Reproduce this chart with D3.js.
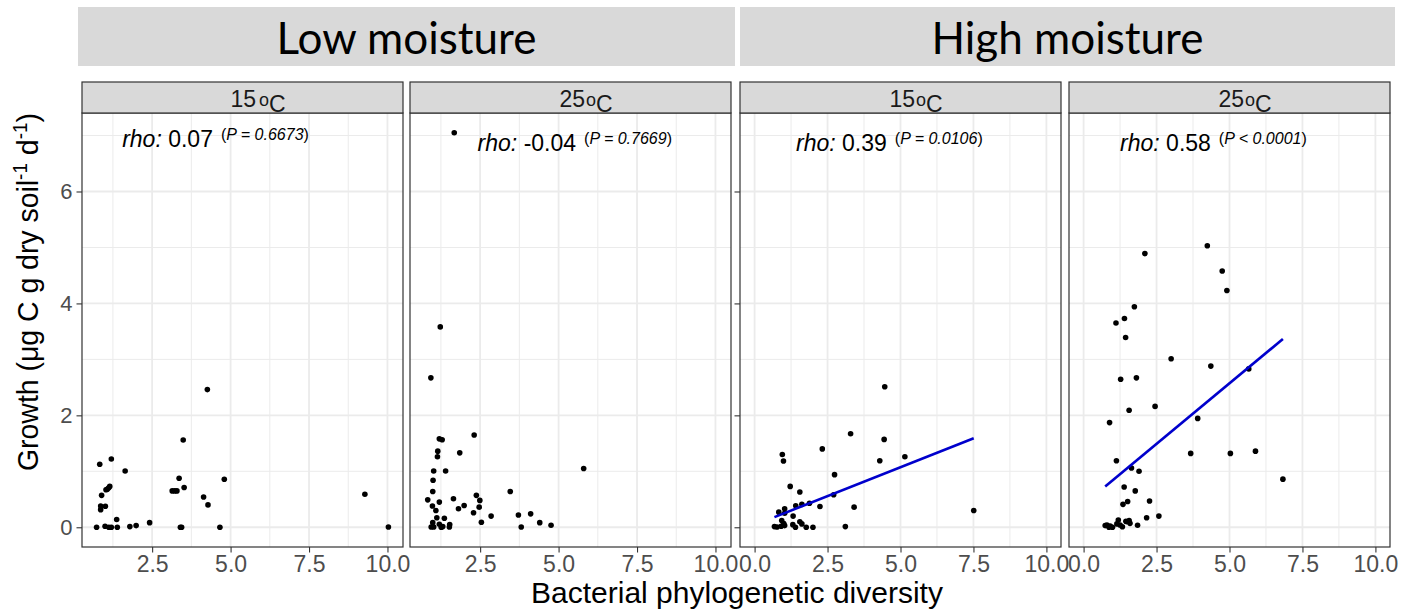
<!DOCTYPE html>
<html><head><meta charset="utf-8">
<script src="https://cdn.jsdelivr.net/npm/d3@7/dist/d3.min.js"></script>
<style>body{margin:0;background:#fff}svg{display:block}</style>
</head><body>
<svg id="chart" width="1406" height="613"></svg>
<script>
// ---------------- DATA ----------------
const moistureGroups = ["Low moisture", "High moisture"];
const temperatures = ["15", "25"];
const xTicks = [0, 2.5, 5, 7.5, 10];
const xTickLabels = ["0.0", "2.5", "5.0", "7.5", "10.0"];
const yTicks = [0, 2, 4, 6];
const yTickLabels = ["0", "2", "4", "6"];

// Low moisture, 15 °C
const low15X = [4.26,3.49,0.83,1.20,1.64,3.36,4.80,1.03,1.07,1.11,1.15,0.89,0.86,1.01,0.86,3.14,3.22,3.29,3.52,4.14,4.28,9.28,1.37,2.42,1.99,1.79,0.73,1.00,1.12,1.20,1.39,3.40,3.44,4.66,10.03];
const low15Y = [2.46,1.56,1.125,1.22,1.006,0.875,0.857,0.67,0.68,0.70,0.73,0.57,0.38,0.375,0.315,0.65,0.65,0.65,0.71,0.54,0.40,0.59,0.14,0.083,0.03,0.012,0,0.018,0,0,0,0,0,0,0.006];
// Low moisture, 25 °C
const low25X = [1.675,1.23,0.93,2.31,1.20,1.29,1.15,1.14,1.85,1.02,1.40,1.00,5.80,0.99,3.46,0.83,1.20,0.98,1.09,1.65,1.81,1.99,2.38,2.49,2.47,2.29,2.54,2.85,3.72,4.11,4.40,4.76,3.81,1.12,1.36,0.99,0.94,1.02,1.20,1.26,1.31,1.52,1.53];
const low25Y = [7.05,3.58,2.67,1.65,1.58,1.565,1.36,1.26,1.33,1.006,1.006,0.84,1.05,0.64,0.64,0.49,0.45,0.38,0.30,0.51,0.33,0.39,0.57,0.48,0.36,0.26,0.09,0.20,0.22,0.24,0.083,0.036,0.006,0.17,0.16,0.083,0.006,0.006,0.054,0,0.012,0.006,0.048];
// High moisture, 15 °C
const high15X = [4.46,3.29,4.44,2.32,4.29,5.15,0.95,0.99,2.74,1.22,1.55,2.71,1.41,1.62,1.88,2.24,3.41,7.51,1.03,0.83,1.03,1.32,0.93,1.00,0.68,0.77,0.91,1.03,1.31,1.40,1.55,1.62,1.77,2.00,3.11];
const high15Y = [2.51,1.67,1.57,1.40,1.19,1.26,1.30,1.185,0.94,0.73,0.63,0.58,0.385,0.41,0.43,0.37,0.36,0.30,0.33,0.27,0.25,0.20,0.12,0.065,0.012,0.006,0.018,0.03,0.047,0,0.10,0.06,0,0,0.012];
// High moisture, 25 °C
const high25X = [4.24,2.10,4.75,4.91,1.74,1.40,1.11,1.44,3.00,4.36,5.66,1.27,1.81,2.45,1.56,0.89,3.91,3.67,5.03,5.89,1.125,1.64,1.90,6.83,1.39,1.77,2.26,1.51,1.35,2.16,2.58,1.85,0.80,0.91,1.14,1.19,1.25,1.33,1.48,1.56,1.59,0.74,0.87,0.99,1.45];
const high25Y = [5.03,4.89,4.58,4.23,3.94,3.73,3.65,3.39,3.01,2.88,2.83,2.645,2.67,2.16,2.09,1.87,1.945,1.32,1.32,1.36,1.19,1.06,1.00,0.86,0.72,0.65,0.47,0.46,0.41,0.17,0.20,0.036,0.04,0.02,0.06,0.13,0.04,0.01,0.10,0.12,0.07,0.03,0,0,0.107];

const rhoValues = ["0.07", "-0.04", "0.39", "0.58"];
const pTexts = ["P = 0.6673", "P = 0.7669", "P = 0.0106", "P < 0.0001"];
// linear fit [intercept, slope] (null = not significant, no line)
const fitCoefs = [null, null, [0.041, 0.2065], [0.407, 0.433]];

// ---------------- LAYOUT ----------------
const svg = d3.select("#chart");
const panelLefts = [82, 410, 740, 1069];
const panelW = 321;
const stripTop = 82, panelTop = 113, panelBottom = 547;
const headerBoxes = [[78, 735], [740, 1395]];
const headerTop = 7, headerBottom = 66;
const annotPos = [[1.545, 6.79], [2.42, 6.72], [1.42, 6.72], [1.25, 6.72]];
const FONT = "'Liberation Sans', Arial, Helvetica, sans-serif";

const panels = [
  {g: 0, t: 0, xs: low15X, ys: low15Y},
  {g: 0, t: 1, xs: low25X, ys: low25Y},
  {g: 1, t: 0, xs: high15X, ys: high15Y},
  {g: 1, t: 1, xs: high25X, ys: high25Y}
];

const allY = [].concat(low15Y, low25Y, high15Y, high25Y);
const yMax = d3.max(allY);
const y = d3.scaleLinear().domain([-0.05 * yMax, 1.05 * yMax]).range([panelBottom, panelTop]);

const lowExt = d3.extent([].concat(low15X, low25X));
const lowPad = (lowExt[1] - lowExt[0]) * 0.05;
const lowDomain = [lowExt[0] - lowPad, lowExt[1] + lowPad];
const highDomain = [0 - 0.5, 10 + 0.5];

// Header boxes
moistureGroups.forEach((name, i) => {
  const [x0, x1] = headerBoxes[i];
  svg.append("rect").attr("x", x0).attr("y", headerTop).attr("width", x1 - x0).attr("height", headerBottom - headerTop).attr("fill", "#d9d9d9");
  svg.append("text").attr("x", (x0 + x1) / 2).attr("y", 53.5).attr("text-anchor", "middle")
    .attr("font-family", "Lato, 'Open Sans', sans-serif").attr("font-size", 44).attr("fill", "#000").text(name);
});

panels.forEach((p, i) => {
  const left = panelLefts[i], right = left + panelW;
  const x = d3.scaleLinear().domain(p.g === 0 ? lowDomain : highDomain).range([left, right]);
  const [d0, d1] = x.domain();
  const g = svg.append("g");
  g.append("rect").attr("x", left).attr("y", panelTop).attr("width", panelW).attr("height", panelBottom - panelTop).attr("fill", "#fff");

  const minorX = [1.25, 3.75, 6.25, 8.75].filter(v => v > d0 && v < d1);
  const majorX = xTicks.filter(v => v >= d0 && v <= d1);
  const minorY = [1, 3, 5, 7];
  g.selectAll(".mx").data(minorX).join("line").attr("x1", d => x(d)).attr("x2", d => x(d)).attr("y1", panelTop).attr("y2", panelBottom).attr("stroke", "#ebebeb").attr("stroke-width", 1);
  g.selectAll(".my").data(minorY).join("line").attr("x1", left).attr("x2", right).attr("y1", d => y(d)).attr("y2", d => y(d)).attr("stroke", "#ebebeb").attr("stroke-width", 1);
  g.selectAll(".Mx").data(majorX).join("line").attr("x1", d => x(d)).attr("x2", d => x(d)).attr("y1", panelTop).attr("y2", panelBottom).attr("stroke", "#ebebeb").attr("stroke-width", 1.8);
  g.selectAll(".My").data(yTicks).join("line").attr("x1", left).attr("x2", right).attr("y1", d => y(d)).attr("y2", d => y(d)).attr("stroke", "#ebebeb").attr("stroke-width", 1.8);

  // points
  const pts = p.xs.map((v, k) => [v, p.ys[k]]);
  g.selectAll("circle").data(pts).join("circle").attr("cx", d => x(d[0])).attr("cy", d => y(d[1])).attr("r", 2.8).attr("fill", "#000");

  // fit line
  const fit = fitCoefs[i];
  if (fit) {
    const ex = d3.extent(p.xs);
    g.append("line").attr("x1", x(ex[0])).attr("y1", y(fit[0] + fit[1] * ex[0]))
      .attr("x2", x(ex[1])).attr("y2", y(fit[0] + fit[1] * ex[1]))
      .attr("stroke", "#0000cc").attr("stroke-width", 2.6);
  }

  // annotation
  const [ax, ay] = annotPos[i];
  const t = g.append("text").attr("x", x(ax)).attr("y", y(ay)).attr("font-family", FONT).attr("font-size", 23).attr("fill", "#000");
  t.append("tspan").attr("font-style", "italic").text("rho:");
  t.append("tspan").text(" " + rhoValues[i]);
  const pt = t.append("tspan").attr("font-size", 16).attr("dx", 8).attr("dy", -7);
  pt.text("(");
  t.append("tspan").attr("font-size", 16).attr("font-style", "italic").text(pTexts[i]);
  t.append("tspan").attr("font-size", 16).text(")");

  // border
  g.append("rect").attr("x", left).attr("y", panelTop).attr("width", panelW).attr("height", panelBottom - panelTop)
    .attr("fill", "none").attr("stroke", "#333").attr("stroke-width", 1.2);

  // strip
  g.append("rect").attr("x", left).attr("y", stripTop).attr("width", panelW).attr("height", panelTop - stripTop)
    .attr("fill", "#d9d9d9").attr("stroke", "#333").attr("stroke-width", 1.2);
  const st = g.append("text").attr("x", left + panelW / 2 + 15.5).attr("y", 106.7).attr("text-anchor", "middle")
    .attr("font-family", FONT).attr("font-size", 23).attr("fill", "#1a1a1a");
  st.append("tspan").text(temperatures[p.t]);
  st.append("tspan").attr("font-size", 18).attr("dx", i === 0 ? 3 : 1).attr("dy", -1).text("o");
  st.append("tspan").attr("dy", 6).text("C");

  // x axis
  const xa = d3.axisBottom(x).tickValues(majorX).tickSize(5.5).tickPadding(3.5)
    .tickFormat(d => xTickLabels[xTicks.indexOf(d)]);
  const gx = svg.append("g").attr("transform", `translate(0,${panelBottom})`).call(xa);
  gx.select(".domain").remove();
  gx.selectAll(".tick line").attr("stroke", "#333").attr("stroke-width", 1.1);
  gx.selectAll(".tick text").attr("font-family", FONT).attr("font-size", 23).attr("fill", "#4d4d4d");

  // y axis (ticks on first panel of each group; labels only on the very first)
  if (p.t === 0) {
    const ya = d3.axisLeft(y).tickValues(yTicks).tickSize(5.5).tickPadding(4)
      .tickFormat(i === 0 ? (d => yTickLabels[yTicks.indexOf(d)]) : (() => ""));
    const gy = svg.append("g").attr("transform", `translate(${left},0)`).call(ya);
    gy.select(".domain").remove();
    gy.selectAll(".tick line").attr("stroke", "#333").attr("stroke-width", 1.1);
    gy.selectAll(".tick text").attr("font-family", FONT).attr("font-size", 22).attr("fill", "#4d4d4d");
  }
});

// axis titles
svg.append("text").attr("x", 737).attr("y", 603).attr("text-anchor", "middle")
  .attr("font-family", FONT).attr("font-size", 30).attr("fill", "#000").text("Bacterial phylogenetic diversity");

const yt = svg.append("text").attr("transform", "translate(38,292) rotate(-90)").attr("text-anchor", "middle")
  .attr("font-family", FONT).attr("font-size", 30).attr("fill", "#000")
  .attr("textLength", 358).attr("lengthAdjust", "spacingAndGlyphs");
yt.append("tspan").text("Growth (μg C g dry soil");
yt.append("tspan").attr("font-size", 20).attr("dy", -11).text("-1");
yt.append("tspan").attr("dy", 11).text(" d");
yt.append("tspan").attr("font-size", 20).attr("dy", -11).text("-1");
yt.append("tspan").attr("dy", 11).text(")");
</script>
</body></html>
